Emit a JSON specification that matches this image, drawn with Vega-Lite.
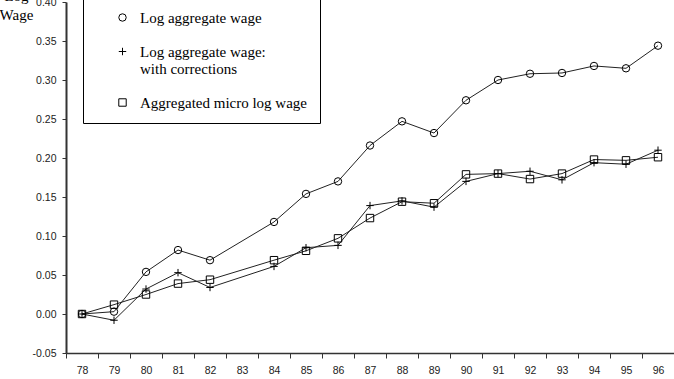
{
  "$schema": "https://vega.github.io/schema/vega-lite/v6.json",
  "width": 608,
  "height": 351,
  "autosize": {"type": "none"},
  "padding": {"left": 66, "top": 2, "right": 0, "bottom": 26},
  "background": "white",
  "config": {
    "view": {"stroke": null},
    "axis": {"grid": false, "labelFont": "Liberation Sans", "labelFontSize": 10.5, "labelColor": "#222", "tickColor": "#333", "domainColor": "#333"}
  },
  "data": {"values": [
    {"year": 78, "series": "Log aggregate wage", "value": 0},
    {"year": 79, "series": "Log aggregate wage", "value": 0.003},
    {"year": 80, "series": "Log aggregate wage", "value": 0.054},
    {"year": 81, "series": "Log aggregate wage", "value": 0.082},
    {"year": 82, "series": "Log aggregate wage", "value": 0.069},
    {"year": 84, "series": "Log aggregate wage", "value": 0.118},
    {"year": 85, "series": "Log aggregate wage", "value": 0.154},
    {"year": 86, "series": "Log aggregate wage", "value": 0.170},
    {"year": 87, "series": "Log aggregate wage", "value": 0.216},
    {"year": 88, "series": "Log aggregate wage", "value": 0.247},
    {"year": 89, "series": "Log aggregate wage", "value": 0.232},
    {"year": 90, "series": "Log aggregate wage", "value": 0.274},
    {"year": 91, "series": "Log aggregate wage", "value": 0.300},
    {"year": 92, "series": "Log aggregate wage", "value": 0.308},
    {"year": 93, "series": "Log aggregate wage", "value": 0.309},
    {"year": 94, "series": "Log aggregate wage", "value": 0.318},
    {"year": 95, "series": "Log aggregate wage", "value": 0.315},
    {"year": 96, "series": "Log aggregate wage", "value": 0.344},
    {"year": 78, "series": "Log aggregate wage: with corrections", "value": 0},
    {"year": 79, "series": "Log aggregate wage: with corrections", "value": -0.008},
    {"year": 80, "series": "Log aggregate wage: with corrections", "value": 0.032},
    {"year": 81, "series": "Log aggregate wage: with corrections", "value": 0.053},
    {"year": 82, "series": "Log aggregate wage: with corrections", "value": 0.034},
    {"year": 84, "series": "Log aggregate wage: with corrections", "value": 0.061},
    {"year": 85, "series": "Log aggregate wage: with corrections", "value": 0.085},
    {"year": 86, "series": "Log aggregate wage: with corrections", "value": 0.088},
    {"year": 87, "series": "Log aggregate wage: with corrections", "value": 0.139},
    {"year": 88, "series": "Log aggregate wage: with corrections", "value": 0.145},
    {"year": 89, "series": "Log aggregate wage: with corrections", "value": 0.137},
    {"year": 90, "series": "Log aggregate wage: with corrections", "value": 0.170},
    {"year": 91, "series": "Log aggregate wage: with corrections", "value": 0.180},
    {"year": 92, "series": "Log aggregate wage: with corrections", "value": 0.183},
    {"year": 93, "series": "Log aggregate wage: with corrections", "value": 0.172},
    {"year": 94, "series": "Log aggregate wage: with corrections", "value": 0.194},
    {"year": 95, "series": "Log aggregate wage: with corrections", "value": 0.192},
    {"year": 96, "series": "Log aggregate wage: with corrections", "value": 0.210},
    {"year": 78, "series": "Aggregated micro log wage", "value": 0},
    {"year": 79, "series": "Aggregated micro log wage", "value": 0.012},
    {"year": 80, "series": "Aggregated micro log wage", "value": 0.025},
    {"year": 81, "series": "Aggregated micro log wage", "value": 0.039},
    {"year": 82, "series": "Aggregated micro log wage", "value": 0.044},
    {"year": 84, "series": "Aggregated micro log wage", "value": 0.069},
    {"year": 85, "series": "Aggregated micro log wage", "value": 0.081},
    {"year": 86, "series": "Aggregated micro log wage", "value": 0.097},
    {"year": 87, "series": "Aggregated micro log wage", "value": 0.123},
    {"year": 88, "series": "Aggregated micro log wage", "value": 0.144},
    {"year": 89, "series": "Aggregated micro log wage", "value": 0.142},
    {"year": 90, "series": "Aggregated micro log wage", "value": 0.179},
    {"year": 91, "series": "Aggregated micro log wage", "value": 0.180},
    {"year": 92, "series": "Aggregated micro log wage", "value": 0.173},
    {"year": 93, "series": "Aggregated micro log wage", "value": 0.180},
    {"year": 94, "series": "Aggregated micro log wage", "value": 0.198},
    {"year": 95, "series": "Aggregated micro log wage", "value": 0.197},
    {"year": 96, "series": "Aggregated micro log wage", "value": 0.201}
  ]},
  "encoding": {
    "x": {
      "field": "year", "type": "ordinal",
      "scale": {"type": "band", "domain": [78,79,80,81,82,83,84,85,86,87,88,89,90,91,92,93,94,95,96], "paddingInner": 0, "paddingOuter": 0},
      "axis": {"title": null, "labelAngle": 0, "tickBand": "extent", "tickSize": 5, "labelPadding": 7, "domainWidth": 1.5}
    },
    "y": {
      "field": "value", "type": "quantitative",
      "scale": {"domain": [-0.05, 0.4], "nice": false, "zero": false},
      "axis": {
        "values": [-0.05, 0, 0.05, 0.1, 0.15, 0.2, 0.25, 0.3, 0.35, 0.4],
        "labelExpr": "replace(format(datum.value, '.2f'), '\u2212', '-')",
        "tickSize": 4, "labelPadding": 6, "domainWidth": 2,
        "title": ["Log", "Wage"], "titleAngle": 0, "titleAlign": "center", "titleBaseline": "alphabetic",
        "titleX": -50, "titleY": -2, "titleLineHeight": 19, "titleFont": "Liberation Serif", "titleFontSize": 15,
        "titleFontWeight": "normal", "titleColor": "#000"
      }
    }
  },
  "layer": [
    {"mark": {"type": "line", "color": "#222", "strokeWidth": 1}, "encoding": {"detail": {"field": "series"}}},
    {
      "mark": {"type": "point", "filled": false, "stroke": "black", "strokeWidth": 1, "size": 55, "opacity": 1},
      "encoding": {
        "shape": {
          "field": "series", "type": "nominal",
          "scale": {"domain": ["Log aggregate wage", "Log aggregate wage: with corrections", "Aggregated micro log wage"], "range": ["circle", "M-1,0L1,0M0,-1L0,1", "square"]},
          "legend": {
            "title": null, "orient": "none", "legendX": 17, "legendY": -4,
            "strokeColor": "#000", "fillColor": "white", "padding": 12,
            "symbolOffset": 20, "labelOffset": 10, "rowPadding": 18,
            "labelFont": "Liberation Serif", "labelFontSize": 15, "labelColor": "#000", "labelLimit": 300,
            "symbolStrokeColor": "#000", "symbolStrokeWidth": 1, "symbolSize": 55,
            "labelExpr": "datum.label == 'Log aggregate wage: with corrections' ? ['Log aggregate wage:', ' with corrections'] : datum.label"
          }
        }
      }
    }
  ]
}
